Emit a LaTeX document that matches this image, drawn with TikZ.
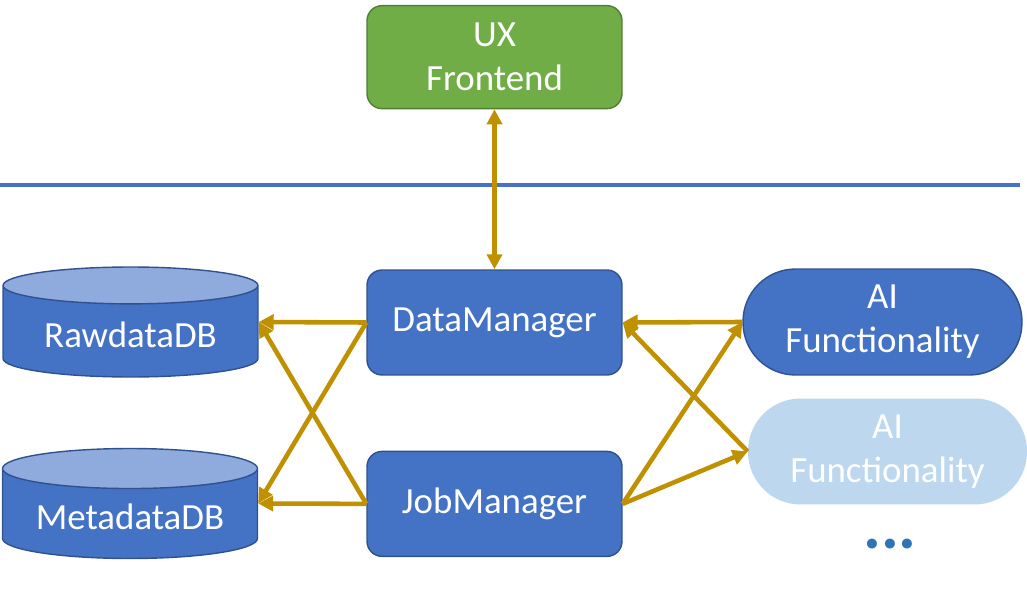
\documentclass[tikz,border=0pt]{standalone}
\usepackage{fontspec}
\setmainfont{Carlito}
\usepackage{xcolor}
\usepackage{tikz}
\usetikzlibrary{arrows.meta, positioning, shapes.geometric}

\definecolor{boxblue}{HTML}{4472C4}
\definecolor{boxedge}{HTML}{2F528F}
\definecolor{uxgreen}{HTML}{70AD47}
\definecolor{uxedge}{HTML}{507E32}
\definecolor{dbtop}{HTML}{8FAADC}
\definecolor{ailight}{HTML}{BDD7EE}
\definecolor{linkgold}{HTML}{BF9000}
\definecolor{dotblue}{HTML}{2E75B6}

\begin{document}
\begin{tikzpicture}[x=0.02cm, y=0.02cm, font=\fontsize{21}{25}\selectfont, >={Triangle[length=0.3cm, width=0.3cm]}]
            % Block styles
            \tikzstyle{block} = [rectangle, draw=boxedge, line width=0.8pt, fill=boxblue, text=white, rounded corners=0.3cm, align=center, minimum width=5.1cm, minimum height=2.1cm]
            \tikzstyle{db} = [cylinder, shape border rotate=90, aspect=0.2, draw=boxedge, line width=0.8pt, cylinder uses custom fill, cylinder body fill=boxblue, cylinder end fill=dbtop, text=white, minimum width=5.1cm, minimum height=2.2cm, anchor=shape center]
            \tikzstyle{ai} = [rectangle, rounded corners=1.05cm, align=center, text=white, minimum width=5.58cm, minimum height=2.12cm]
            \tikzstyle{link} = [draw=linkgold, line width=2.6pt]
            \useasboundingbox (0,0) rectangle (1027,596);
            % Managers and frontend
            \node[block] (dm) at (494.5,273.5) {DataManager};
            \node[block, below=1.5cm of dm] (jm) {JobManager};
            \node[block, above=3.2cm of dm, minimum height=2.06cm, fill=uxgreen, draw=uxedge] (ux) {UX\\Frontend};
            % Databases
            \node[db] (raw) at (130.5,274) {RawdataDB};
            \node[db] (meta) at (130,92.5) {MetadataDB};
            \coordinate (rawin) at (raw.shape center -| raw.east);
            \coordinate (metain) at (meta.shape center -| meta.east);
            % AI functionality
            \node[ai, fill=boxblue, draw=boxedge, line width=0.8pt] (ai1) at (882.5,274) {AI\\Functionality};
            \node[ai, fill=ailight] (ai2) at (887.5,144.5) {AI\\Functionality};
            \node[text=dotblue, font=\fontsize{38}{42}\selectfont\bfseries] (more) at (890,52) {...};
            % Separator
            \coordinate (sepl) at (0,411);
            \coordinate (sepr) at (1020,411);
            \draw[boxblue, line width=2.3pt] (sepl) -- (sepr);
            % Connections
            \draw[link, <->] (ux) -- (dm);
            \draw[link, ->] (dm.west) -- (rawin);
            \draw[link, ->] (dm.west) -- (metain);
            \draw[link, ->] (jm.west) -- (rawin);
            \draw[link, ->] (jm.west) -- (metain);
            \draw[link, ->] (ai1.west) -- (dm.east);
            \draw[link, ->] (ai2.west) -- (dm.east);
            \draw[link, ->] (jm.east) -- (ai1.west);
            \draw[link, ->] (jm.east) -- (ai2.west);
        \end{tikzpicture}
\end{document}
